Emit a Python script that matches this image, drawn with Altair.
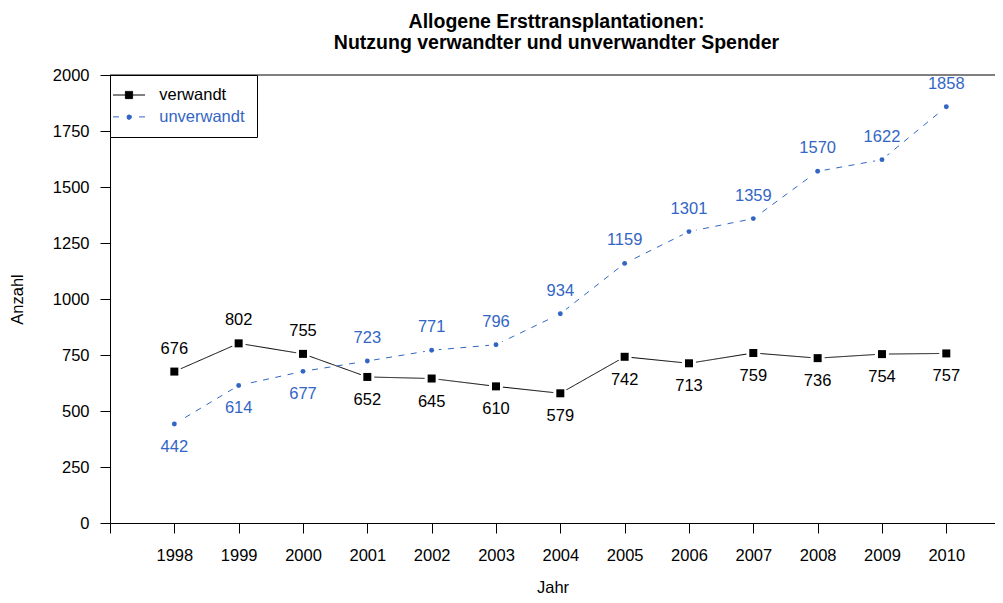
import altair as alt
import pandas as pd

# ---------------- data ----------------
years = [1998, 1999, 2000, 2001, 2002, 2003, 2004, 2005, 2006, 2007, 2008, 2009, 2010]
verwandt = [676, 802, 755, 652, 645, 610, 579, 742, 713, 759, 736, 754, 757]
unverwandt = [442, 614, 677, 723, 771, 796, 934, 1159, 1301, 1359, 1570, 1622, 1858]
series_names = ["verwandt", "unverwandt"]
series_colors = ["#000000", "#3366c4"]
x_ticks = [1997, 1998, 1999, 2000, 2001, 2002, 2003, 2004, 2005, 2006, 2007, 2008, 2009, 2010]
y_ticks = [0, 250, 500, 750, 1000, 1250, 1500, 1750, 2000]
title_lines = ["Allogene Ersttransplantationen:", "Nutzung verwandter und unverwandter Spender"]
x_title = "Jahr"
y_title = "Anzahl"

FONT = "Liberation Sans"
FS = 16.5
BLUE = series_colors[1]

rows = []
for i, yr in enumerate(years):
    a, b = verwandt[i], unverwandt[i]
    rows.append({"Jahr": yr, "Anzahl": a, "Serie": series_names[0], "pos": "above" if a > b else "below"})
    rows.append({"Jahr": yr, "Anzahl": b, "Serie": series_names[1], "pos": "above" if b > a else "below"})
df = pd.DataFrame(rows)

x_enc = alt.X(
    "Jahr:Q",
    scale=alt.Scale(domain=[1997, 2010.757], nice=False, zero=False),
    axis=alt.Axis(values=x_ticks, format="d",
                  labelExpr="datum.value == 1997 ? '' : datum.label",
                  tickSize=10, labelPadding=14, title=x_title, titlePadding=15.5),
)
y_enc = alt.Y(
    "Anzahl:Q",
    scale=alt.Scale(domain=[0, 2000], nice=False),
    axis=alt.Axis(values=y_ticks, format="d", tickSize=10, labelPadding=11,
                  title=y_title, titlePadding=27),
)

sym_v = "M-2,0H2M-0.45,-0.45H0.45V0.45H-0.45Z"
sym_u = "M-2,0H-1.25M1.25,0H2M0.3,0A0.3,0.3,0,1,1,-0.3,0A0.3,0.3,0,1,1,0.3,0Z"
is_v = "datum.value == 'verwandt'"

legend = alt.Legend(
    orient="none", legendX=0, legendY=0, title=None,
    strokeColor="black", fillColor="white", padding=11.5, cornerRadius=0,
    rowPadding=4.9, labelOffset=21.7, symbolOffset=-1, symbolSize=256,
    symbolStrokeWidth=1,
    symbolType={"expr": f"{is_v} ? '{sym_v}' : '{sym_u}'"},
    symbolFillColor={"expr": f"{is_v} ? 'black' : '{BLUE}'"},
    labelColor={"expr": f"{is_v} ? 'black' : '{BLUE}'"},
    labelFont=FONT, labelFontSize=FS, labelLimit=400,
)

base = alt.Chart(df)

top_rule = alt.Chart(pd.DataFrame({"top": [y_ticks[-1]]})).mark_rule(
    color="black", strokeWidth=1
).encode(y=alt.datum(y_ticks[-1]))

lines = base.mark_line(strokeWidth=1).encode(
    x=x_enc, y=y_enc,
    color=alt.Color("Serie:N", scale=alt.Scale(domain=series_names, range=series_colors), legend=legend),
    strokeDash=alt.StrokeDash("Serie:N", scale=alt.Scale(domain=series_names, range=[[1, 0], [6, 6.5]]), legend=None),
)

halo = base.mark_point(filled=True, shape="circle", size=200, color="white", opacity=1, strokeWidth=0).encode(
    x=x_enc, y=y_enc
)

pts_v = base.transform_filter("datum.Serie == 'verwandt'").mark_point(
    filled=True, shape="square", size=64, color="black", opacity=1, strokeWidth=0
).encode(x=x_enc, y=y_enc)

pts_u = base.transform_filter("datum.Serie == 'unverwandt'").mark_point(
    filled=True, shape="circle", size=24, color=BLUE, opacity=1, strokeWidth=0
).encode(x=x_enc, y=y_enc)

txt_color = alt.condition("datum.Serie == 'verwandt'", alt.value("black"), alt.value(BLUE))

txt_above = base.transform_filter("datum.pos == 'above'").mark_text(
    dy=-23, baseline="middle", align="center", font=FONT, fontSize=FS
).encode(x=x_enc, y=y_enc, text=alt.Text("Anzahl:Q"), color=txt_color)

txt_below = base.transform_filter("datum.pos == 'below'").mark_text(
    dy=23, baseline="middle", align="center", font=FONT, fontSize=FS
).encode(x=x_enc, y=y_enc, text=alt.Text("Anzahl:Q"), color=txt_color)

chart = alt.layer(top_rule, lines, halo, pts_v, pts_u, txt_above, txt_below).properties(
    width=885, height=448,
    title=alt.TitleParams(text=title_lines, font=FONT, fontSize=19.5, fontWeight="bold",
                          anchor="middle", frame="group", offset=14, lineHeight=21,
                          color="black", dx=4),
    autosize=alt.AutoSizeParams(type="none"),
    padding={"left": 102, "top": 67, "right": 0, "bottom": 72},
).configure_view(stroke="transparent").configure_axis(
    grid=False, labelFont=FONT, labelFontSize=FS, labelColor="black",
    titleFont=FONT, titleFontSize=FS, titleFontWeight="normal", titleColor="black",
    domainColor="black", tickColor="black", domainWidth=1, tickWidth=1,
)

chart.save("out.html", embed_options={"renderer": "svg", "actions": False})
